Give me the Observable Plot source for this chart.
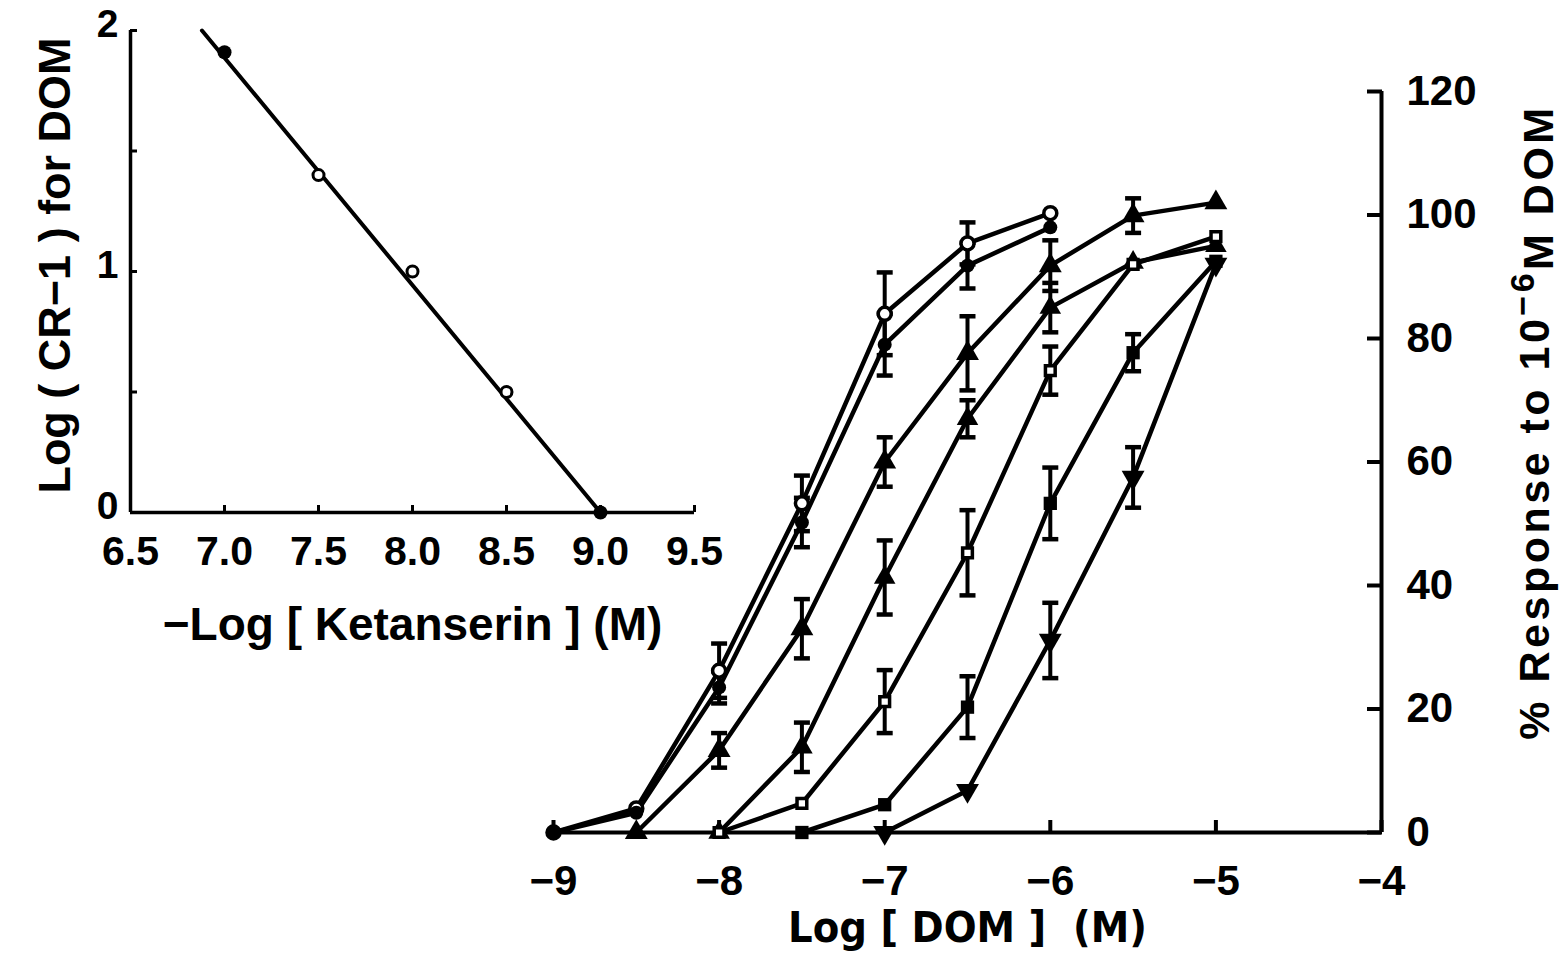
<!DOCTYPE html>
<html><head><meta charset="utf-8">
<script src="https://cdn.jsdelivr.net/npm/d3@7"></script>
<script src="https://cdn.jsdelivr.net/npm/@observablehq/plot@0.6"></script>
<style>
html,body{margin:0;padding:0;background:#fff;overflow:hidden;}
#wrap{position:relative;width:1561px;height:958px;}
#wrap svg{position:absolute;left:0;top:0;}
</style></head><body><div id="wrap"></div>
<script>
// ---------- Main chart data: % response vs Log [DOM] (M) ----------
const logDOM = [-9, -8.5, -8, -7.5, -7, -6.5, -6, -5.5, -5];
const seriesKeys = ["A", "B", "C", "D", "E", "F", "G"];
const respA = [0, 3.9, 26.2, 53.3, 84.0, 95.4, 100.3, null, null];
const respB = [0, 3.2, 23.5, 50.2, 79.0, 91.8, 98.0, null, null];
const respC = [null, 0, 13.3, 33.0, 60.0, 77.6, 91.8, 99.9, 102.0];
const respD = [null, null, 0, 13.8, 41.3, 67.0, 85.0, 92.3, 95.0];
const respE = [null, null, 0, 4.7, 21.2, 45.3, 74.8, 92.0, 96.5];
const respF = [null, null, null, 0, 4.5, 20.3, 53.3, 77.7, 92.5];
const respG = [null, null, null, null, 0, 6.8, 31.1, 57.5, 92.0];
const semA = [null, null, 4.4, 4.5, 6.7, 3.4, null, null, null];
const semB = [null, null, 2.6, 4.0, 5.0, 3.7, null, null, null];
const semC = [null, null, 2.8, 4.8, 4.0, 6.0, 4.1, 2.8, null];
const semD = [null, null, null, 4.0, 6.0, 3.0, 4.0, null, null];
const semE = [null, null, null, null, 5.1, 6.9, 3.9, null, null];
const semF = [null, null, null, null, null, 5.0, 5.8, 3.0, null];
const semG = [null, null, null, null, null, null, 6.1, 4.9, null];
const xTicks = [-9, -8, -7, -6, -5, -4];
const yTicks = [0, 20, 40, 60, 80, 100, 120];

// ---------- Inset data: Schild plot ----------
const ketX = [7.0, 7.5, 8.0, 8.5, 9.0];
const ketY = [1.91, 1.40, 1.00, 0.50, 0.00];
const ketFilled = [true, false, false, false, true];
const fitX = [6.88, 9.0];
const fitY = [2.0, 0.0];
const ketTicksX = [6.5, 7.0, 7.5, 8.0, 8.5, 9.0, 9.5];
const ketTicksY = [0, 0.5, 1, 1.5, 2];
const ketLabelsY = [0, 1, 2];

// ---------- build tables ----------
const respAll = [respA, respB, respC, respD, respE, respF, respG];
const semAll = [semA, semB, semC, semD, semE, semF, semG];
const rows = [];
seriesKeys.forEach((k, i) => {
  logDOM.forEach((x, j) => {
    const y = respAll[i][j];
    if (y != null) rows.push({series: k, x, y, e: semAll[i][j]});
  });
});
const errRows = rows.filter(d => d.e != null);

// ---------- symbols & styles ----------
const invTriangle = {draw(ctx, size) {
  const s3 = Math.sqrt(3);
  const y = -Math.sqrt(size / (s3 * 3));
  ctx.moveTo(0, -y * 2); ctx.lineTo(-s3 * y, y); ctx.lineTo(s3 * y, y); ctx.closePath();
}};
const capSymbol = {draw(ctx, size) {
  const r = Math.sqrt(size / Math.PI);
  ctx.moveTo(-r, 0); ctx.lineTo(r, 0);
}};
const markerStyle = {
  A: {symbol: "circle", r: 6.5, fill: "white", stroke: "black", strokeWidth: 3.5},
  B: {symbol: "circle", r: 7, fill: "black"},
  C: {symbol: "triangle", r: 8.5, fill: "black"},
  D: {symbol: "triangle", r: 8, fill: "black"},
  E: {symbol: "square", r: 5.5, fill: "white", stroke: "black", strokeWidth: 3.5},
  F: {symbol: "square", r: 7.5, fill: "black"},
  G: {symbol: invTriangle, r: 8.5, fill: "black"}
};
const NUM = "Liberation Sans, Arial, sans-serif";
const LAB = "Liberation Sans, Arial, sans-serif";
const COND = "DejaVu Sans Condensed, Liberation Sans Narrow, sans-serif";
const intFmt = d3.format("d");

// ---------- main chart ----------
const main = Plot.plot({
  width: 1561, height: 958,
  marginLeft: 553, marginRight: 180, marginTop: 91, marginBottom: 126,
  x: {domain: [-9, -4]},
  y: {domain: [0, 120]},
  style: {background: "white", overflow: "visible"},
  marks: [
    Plot.ruleY([0], {stroke: "black", strokeWidth: 4}),
    Plot.ruleX([-4], {stroke: "black", strokeWidth: 4}),
    Plot.axisX({ticks: xTicks, tickFormat: intFmt, tickSize: -12, tickPadding: 45, strokeWidth: 4, label: null,
      fontSize: 42, fontWeight: "bold", fontFamily: NUM}),
    Plot.axisY({anchor: "right", ticks: yTicks, tickFormat: intFmt, tickSize: -15, tickPadding: 40, strokeWidth: 4, label: null,
      fontSize: 42, fontWeight: "bold", fontFamily: NUM}),
    Plot.line(rows, {x: "x", y: "y", z: "series", stroke: "black", strokeWidth: 4.5, strokeLinejoin: "round"}),
    Plot.ruleX(errRows, {x: "x", y1: d => d.y - d.e, y2: d => d.y + d.e, stroke: "black", strokeWidth: 4}),
    Plot.dot(errRows, {x: "x", y: d => d.y + d.e, symbol: capSymbol, r: 8, stroke: "black", strokeWidth: 4.5, fill: "none"}),
    Plot.dot(errRows, {x: "x", y: d => d.y - d.e, symbol: capSymbol, r: 8, stroke: "black", strokeWidth: 4.5, fill: "none"}),
    ...seriesKeys.map(k => Plot.dot(rows.filter(d => d.series === k), {x: "x", y: "y", ...markerStyle[k]})),
    Plot.text(["Log [ DOM ]  (M)"], {frameAnchor: "bottom", dy: 96, lineAnchor: "middle", textAnchor: "middle",
      fontSize: 43, fontWeight: "bold", fontFamily: COND, fill: "black"}),
    Plot.text(["% Response to 10\u2212\u2076M DOM"], {frameAnchor: "right", dx: 154, dy: -40, rotate: -90,
      textAnchor: "middle", lineAnchor: "middle", fontSize: 43, fontWeight: "bold", fontFamily: LAB, fill: "black"})
  ]
});

// ---------- inset ----------
const inset = Plot.plot({
  width: 1561, height: 958,
  marginLeft: 130, marginRight: 867, marginTop: 30, marginBottom: 446,
  x: {domain: [6.5, 9.5]},
  y: {domain: [0, 2]},
  style: {background: "transparent", overflow: "visible"},
  marks: [
    Plot.ruleY([0], {stroke: "black", strokeWidth: 3.5}),
    Plot.ruleX([6.5], {stroke: "black", strokeWidth: 3.5}),
    Plot.axisX({ticks: ketTicksX, tickFormat: d3.format(".1f"), tickSize: -7, tickPadding: 30, strokeWidth: 3, label: null,
      fontSize: 41, fontWeight: "bold", fontFamily: NUM}),
    Plot.axisY({ticks: ketTicksY, tickSize: -7, tickFormat: () => "", strokeWidth: 3, label: null}),
    Plot.axisY({ticks: ketLabelsY, tickFormat: intFmt, tickSize: 0, tickPadding: 12, dy: -6, label: null,
      fontSize: 39, fontWeight: "bold", fontFamily: NUM}),
    Plot.line(fitX.map((x, i) => ({x, y: fitY[i]})), {x: "x", y: "y", stroke: "black", strokeWidth: 4}),
    Plot.dot(ketX.map((x, i) => ({x, y: ketY[i], f: ketFilled[i]})).filter(d => d.f), {x: "x", y: "y", r: 7, fill: "black"}),
    Plot.dot(ketX.map((x, i) => ({x, y: ketY[i], f: ketFilled[i]})).filter(d => !d.f), {x: "x", y: "y", r: 5.5, fill: "white", stroke: "black", strokeWidth: 3}),
    Plot.text(["\u2212Log [ Ketanserin ] (M)"], {frameAnchor: "bottom", dy: 113, lineAnchor: "middle", textAnchor: "middle",
      fontSize: 46, fontWeight: "bold", fontFamily: LAB, fill: "black"}),
    Plot.text(["Log ( CR\u22121 ) for DOM"], {frameAnchor: "left", dx: -75, dy: -6, rotate: -90, lineAnchor: "middle", textAnchor: "middle",
      fontSize: 45, fontWeight: "bold", fontFamily: LAB, fill: "black"})
  ]
});

document.getElementById("wrap").append(main, inset);

// superscript in right-axis label & letter spacing
d3.select(main).selectAll("text").filter(function() { return this.textContent.startsWith("%"); })
  .each(function() {
    const t = d3.select(this);
    t.text(null).style("letter-spacing", "3.5px");
    t.append("tspan").text("% Response to 10");
    t.append("tspan").attr("dy", "-0.45em").style("font-size", "34px").text("\u22126");
    t.append("tspan").attr("dy", "0.45em").text("M DOM");
  });
</script>
</body></html>
